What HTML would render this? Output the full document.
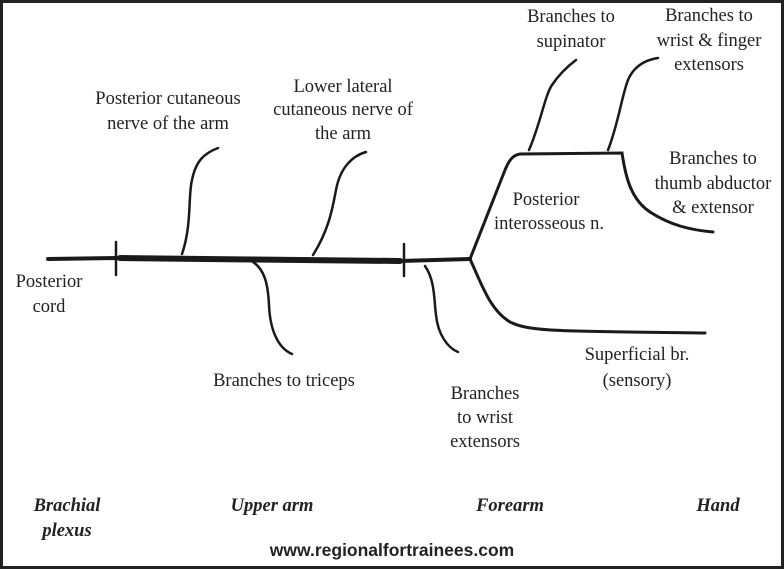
<!DOCTYPE html>
<html><head><meta charset="utf-8"><style>
html,body{margin:0;padding:0;background:#fff}
svg{display:block}
text{font-family:"Liberation Serif",serif;font-size:18.5px;fill:#222}
.b{font-weight:bold;font-style:italic}
.u{font-family:"Liberation Sans",sans-serif;font-weight:bold;font-size:17.5px}
</style></head><body>
<svg width="784" height="569" viewBox="0 0 784 569">
<rect x="1.5" y="1.5" width="781" height="566" fill="#fff" stroke="#222" stroke-width="3"/>
<g fill="none" stroke="#1a1a1a" stroke-linecap="round">
<path d="M48 259 L116 258 L250 259 L400 261 L470 259" stroke-width="4"/>
<path d="M120 258 L250 259.5 L400 261" stroke-width="6"/>
<path d="M116 242 V275 M404 244 V276" stroke-width="2.5"/>
<path d="M182 254 C192 225 188 195 192 180 C196 160 205 153 218 148" stroke-width="2.5"/>
<path d="M313 255 C330 228 333 205 336 190 C340 168 352 156 366 152" stroke-width="2.5"/>
<path d="M253 262 C265 270 268 285 269 305 C270 330 278 348 292 354" stroke-width="2.5"/>
<path d="M425 266 C435 280 434 300 436 315 C438 335 448 348 458 352" stroke-width="2.5"/>
<path d="M470 259 L505 170 C510 158 514 155 520 154 L622 153 C626 180 632 200 650 212 C670 225 690 230 713 232" stroke-width="3"/>
<path d="M529 150 C540 125 545 95 552 85 C560 73 568 66 576 60" stroke-width="2.5"/>
<path d="M608 150 C618 125 622 95 628 80 C634 66 645 60 658 58" stroke-width="2.5"/>
<path d="M470 259 C482 285 490 310 510 322 C530 332 560 331 705 333" stroke-width="3"/>
</g>
<g text-anchor="middle">
<text x="168" y="104">Posterior cutaneous</text><text x="168" y="129">nerve of the arm</text>
<text x="343" y="92">Lower lateral</text><text x="343" y="115">cutaneous nerve of</text><text x="343" y="139">the arm</text>
<text x="571" y="22">Branches to</text><text x="571" y="47">supinator</text>
<text x="709" y="21">Branches to</text><text x="709" y="46">wrist &amp; finger</text><text x="709" y="70">extensors</text>
<text x="713" y="164">Branches to</text><text x="713" y="189">thumb abductor</text><text x="713" y="213">&amp; extensor</text>
<text x="546" y="205">Posterior</text><text x="549" y="229">interosseous n.</text>
<text x="49" y="287">Posterior</text><text x="49" y="312">cord</text>
<text x="284" y="386">Branches to triceps</text>
<text x="485" y="399">Branches</text><text x="485" y="423">to wrist</text><text x="485" y="447">extensors</text>
<text x="637" y="360">Superficial br.</text><text x="637" y="386">(sensory)</text>
<text class="b" x="67" y="511">Brachial</text><text class="b" x="67" y="536">plexus</text>
<text class="b" x="272" y="511">Upper arm</text>
<text class="b" x="510" y="511">Forearm</text>
<text class="b" x="718" y="511">Hand</text>
<text class="u" x="392" y="556">www.regionalfortrainees.com</text>
</g>
</svg>
</body></html>
